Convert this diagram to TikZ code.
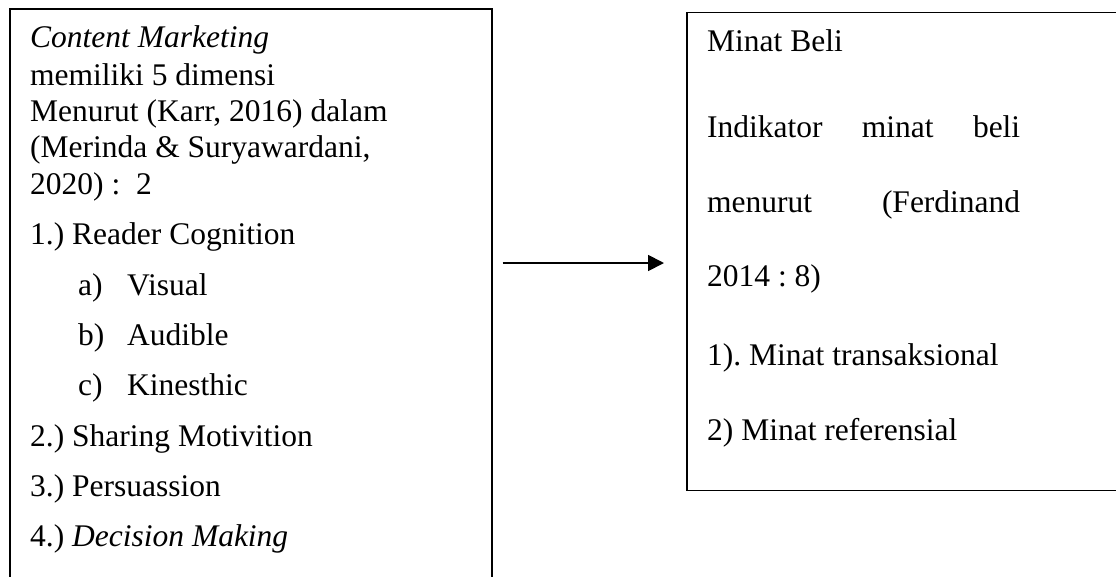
\documentclass[tikz,border=0pt]{standalone}
\usepackage{fontspec}
\setmainfont{Liberation Serif}
\usetikzlibrary{arrows.meta}
\frenchspacing
\begin{document}
\begin{tikzpicture}[x=1pt,y=-1pt,
  box/.style={draw, line width=1.6pt, rectangle, inner sep=0pt, anchor=north west},
  txt/.style={anchor=base west, inner sep=0pt, font=\fontsize{31.5}{37}\selectfont},
  arrowline/.style={line width=1.8pt, -{Triangle[length=16pt,width=16pt]}}]
\clip (0,0) rectangle (1116,576);
\fill[white] (0,0) rectangle (1116,576);
\node[box, minimum width=482pt, minimum height=600pt] (leftbox) at (9,8) {};
\node[box, minimum width=460pt, minimum height=478pt] (rightbox) at (686,11.5) {};
% left box text
\node[txt] (l1) at (30,47) {\itshape Content Marketing};
\node[txt] (l2) at (30,85) {memiliki 5 dimensi};
\node[txt] (l3) at (30,121) {Menurut (Karr, 2016) dalam};
\node[txt] (l4) at (30,157) {(Merinda \& Suryawardani,};
\node[txt] (l5) at (30,194) {2020) :\ \ 2};
\node[txt] (l6) at (30,244) {1.) Reader Cognition};
\node[txt] (l7a) at (78,295) {a)};
\node[txt] (l7b) at (127,295) {Visual};
\node[txt] (l8a) at (78,345) {b)};
\node[txt] (l8b) at (127,345) {Audible};
\node[txt] (l9a) at (78,395) {c)};
\node[txt] (l9b) at (127,395) {Kinesthic};
\node[txt] (l10) at (30,446) {2.) Sharing Motivition};
\node[txt] (l11) at (30,496) {3.) Persuassion};
\node[txt] (l12) at (30,546) {4.) \textit{Decision Making}};
% right box text
\node[txt] (r1) at (707,51) {Minat Beli};
\node[txt] (r2) at (707,137) {\makebox[313pt][l]{Indikator\hfill minat\hfill beli}};
\node[txt] (r3) at (707,212) {\makebox[313pt][l]{menurut\hfill (Ferdinand}};
\node[txt] (r4) at (707,286) {2014 : 8)};
\node[txt] (r5) at (707,365) {1). Minat transaksional};
\node[txt] (r6) at (707,440) {2) Minat referensial};
% arrow
\coordinate (ay) at (0,263);
\draw[arrowline, shorten <=10pt, shorten >=22pt] (leftbox.east |- ay) -- (rightbox.west |- ay);
\end{tikzpicture}
\end{document}
